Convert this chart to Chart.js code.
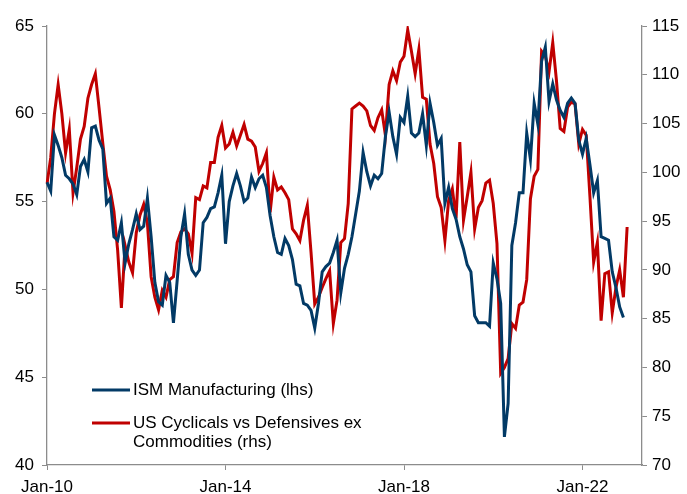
<!DOCTYPE html>
<html>
<head>
<meta charset="utf-8">
<script src="https://cdn.jsdelivr.net/npm/chart.js@4.4.1/dist/chart.umd.min.js"></script>
<style>
  html, body { margin: 0; padding: 0; background: #fff; }
  #wrap { width: 687px; height: 494px; position: relative; }
</style>
</head>
<body>
<div id="wrap"><canvas id="chart"></canvas></div>
<script>
// months from Jan-10 to May-23 (axis runs a bit past the last data point)
const monthNames = ['Jan','Feb','Mar','Apr','May','Jun','Jul','Aug','Sep','Oct','Nov','Dec'];
const categories = [];
for (let i = 0; i <= 160; i++) {
  categories.push(monthNames[i % 12] + '-' + String(10 + Math.floor(i / 12)));
}
const xTickLabels = ['Jan-10', 'Jan-14', 'Jan-18', 'Jan-22'];

// ISM Manufacturing (lhs), Jan-10 .. Dec-22
const ismValues = [
  56.1, 55.6, 58.8, 58.2, 57.5, 56.5, 56.3, 56.0, 55.4, 57.0, 57.4, 56.7,
  59.2, 59.3, 58.5, 58.0, 54.9, 55.2, 53.0, 52.8, 53.8, 51.5, 52.6, 53.4,
  54.3, 53.4, 53.6, 55.2, 53.0, 50.4, 49.3, 49.1, 50.8, 50.4, 48.1, 50.5,
  53.0, 54.3, 52.0, 51.1, 50.8, 51.1, 53.8, 54.1, 54.6, 54.7, 55.5, 56.5,
  52.6, 55.0, 55.9, 56.6, 55.9, 55.0, 55.2, 56.4, 55.8, 56.3, 56.5, 55.8,
  54.2, 53.0, 52.1, 52.0, 52.9, 52.5, 51.7, 50.3, 50.2, 49.2, 49.1, 48.8,
  47.8, 49.2, 51.0, 51.3, 51.5, 52.1, 52.8, 49.8, 51.2, 52.0, 53.0, 54.3,
  55.6, 57.8, 56.7, 55.9, 56.5, 56.3, 56.6, 58.7, 60.1, 58.7, 57.7, 59.8,
  59.5, 61.0, 58.9, 58.7, 58.9, 60.0, 58.2, 60.6, 59.5, 58.2, 58.6, 54.9,
  55.8, 54.6, 54.0, 53.0, 52.3, 51.4, 51.0, 48.5, 48.1, 48.1, 48.1, 47.9,
  51.5, 50.6, 49.2, 41.6, 43.5, 52.5, 53.8, 55.5, 55.5, 58.9, 57.4, 60.6,
  59.4, 63.0, 63.8, 60.7, 61.7, 60.8, 60.2, 59.8, 60.6, 60.9, 60.6, 58.5,
  57.7, 58.6, 57.1, 55.5, 56.2, 53.0, 52.9, 52.8, 51.0, 50.1, 49.0, 48.4
];

// US Cyclicals vs Defensives ex Commodities (rhs), Jan-10 .. Jan-23
const cycValues = [
  98.8, 101.5, 106.0, 109.0, 106.0, 102.0, 104.4, 97.9, 100.5, 103.4, 104.7, 107.6,
  109.0, 110.1, 106.6, 103.0, 99.6, 98.2, 96.0, 92.0, 86.1, 92.5, 90.8, 89.7,
  93.8, 95.6, 96.7, 94.8, 89.3, 87.2, 85.9, 87.9, 87.2, 89.0, 89.3, 92.8,
  93.9, 94.2, 93.7, 91.7, 97.4, 97.2, 98.6, 98.4, 101.0, 101.0, 103.6, 104.8,
  102.5, 102.9, 104.1, 102.7, 103.8, 104.9, 103.4, 103.2, 102.6, 100.1, 100.9, 102.0,
  95.9, 99.5, 98.2, 98.5, 97.9, 97.2, 94.2, 93.7, 93.0, 95.1, 96.6, 91.8,
  86.5, 87.2, 88.2, 89.1, 89.9, 84.5, 86.9, 92.8, 93.2, 96.8, 106.5, 106.8,
  107.1, 106.8, 106.3, 104.8, 104.3, 105.6, 106.4, 103.8, 109.0, 110.4, 109.4, 111.3,
  111.9, 114.6, 112.4, 110.1, 112.6, 107.7, 107.5, 102.9, 100.9, 97.5, 96.4, 93.0,
  97.1, 98.3, 95.3, 103.1, 95.1, 97.5, 100.0, 94.2, 96.4, 97.1, 98.9, 99.2,
  96.8, 92.7, 79.4, 80.0, 80.9, 84.5, 84.0, 86.4, 86.7, 89.0, 97.3, 99.6,
  100.3, 112.4, 111.9, 110.3, 113.3, 109.4, 104.5, 104.2, 106.7, 107.2, 107.0, 102.9,
  104.4, 103.8, 97.5, 90.8, 92.8, 84.8, 89.6, 89.8, 85.6, 88.2, 90.0, 87.2,
  94.4
];

const leftTicks = [40, 45, 50, 55, 60, 65];
const rightTicks = [70, 75, 80, 85, 90, 95, 100, 105, 110, 115];

const legendRows = [
  { color: '#023a66', lines: ['ISM Manufacturing (lhs)'] },
  { color: '#c00000', lines: ['US Cyclicals vs Defensives ex', 'Commodities (rhs)'] }
];

const FONT = '"Liberation Sans", Arial, sans-serif';
const axisColor = '#8c8c8c';

// legend drawn inside the plot, bottom left
const insideLegend = {
  id: 'insideLegend',
  afterDraw(chart) {
    const ctx = chart.ctx;
    ctx.save();
    ctx.font = '17px ' + FONT;
    ctx.textBaseline = 'middle';
    ctx.lineWidth = 3;
    let y = 390;
    legendRows.forEach(row => {
      ctx.strokeStyle = row.color;
      ctx.beginPath();
      ctx.moveTo(92, y);
      ctx.lineTo(130, y);
      ctx.stroke();
      ctx.fillStyle = '#000';
      row.lines.forEach((t, i) => ctx.fillText(t, 133, y + i * 19));
      y += 33;
    });
    ctx.restore();
  }
};

const ctx = document.getElementById('chart').getContext('2d');
new Chart(ctx, {
  type: 'line',
  data: {
    labels: categories,
    datasets: [
      {
        label: 'ISM Manufacturing (lhs)',
        data: ismValues,
        borderColor: '#023a66',
        borderWidth: 3,
        pointRadius: 0,
        tension: 0,
        yAxisID: 'yL'
      },
      {
        label: 'US Cyclicals vs Defensives ex Commodities (rhs)',
        data: cycValues,
        borderColor: '#c00000',
        borderWidth: 3,
        pointRadius: 0,
        tension: 0,
        yAxisID: 'yR'
      }
    ]
  },
  options: {
    responsive: true,
    maintainAspectRatio: false,
    animation: false,
    layout: { padding: { top: 26, left: 0, right: 0, bottom: 0 } },
    plugins: {
      legend: { display: false },
      tooltip: { enabled: false }
    },
    scales: {
      x: {
        type: 'category',
        offset: false,
        afterFit: s => { s.height = 29; },
        border: { display: true, color: axisColor, width: 1.3 },
        grid: {
          drawOnChartArea: false,
          tickLength: 5,
          color: c => xTickLabels.includes(categories[c.index]) ? axisColor : 'rgba(0,0,0,0)'
        },
        ticks: {
          autoSkip: false,
          maxRotation: 0,
          minRotation: 0,
          padding: 7,
          color: '#000',
          font: { family: FONT, size: 17 },
          callback: function (value) {
            const lab = categories[value];
            return xTickLabels.includes(lab) ? lab : '';
          }
        }
      },
      yL: {
        position: 'left',
        min: 40,
        max: 65,
        afterFit: s => { s.width = 47; },
        afterBuildTicks: s => { s.ticks = leftTicks.map(v => ({ value: v })); },
        border: { display: true, color: axisColor, width: 1.3 },
        grid: { drawOnChartArea: false, tickLength: 5, color: axisColor },
        ticks: { padding: 8, color: '#000', font: { family: FONT, size: 17 } }
      },
      yR: {
        position: 'right',
        min: 70,
        max: 115,
        afterFit: s => { s.width = 45; },
        afterBuildTicks: s => { s.ticks = rightTicks.map(v => ({ value: v })); },
        border: { display: true, color: axisColor, width: 1.3 },
        grid: { drawOnChartArea: false, tickLength: 5, color: axisColor },
        ticks: { padding: 5, color: '#000', font: { family: FONT, size: 17 } }
      }
    }
  },
  plugins: [insideLegend]
});
</script>
</body>
</html>
